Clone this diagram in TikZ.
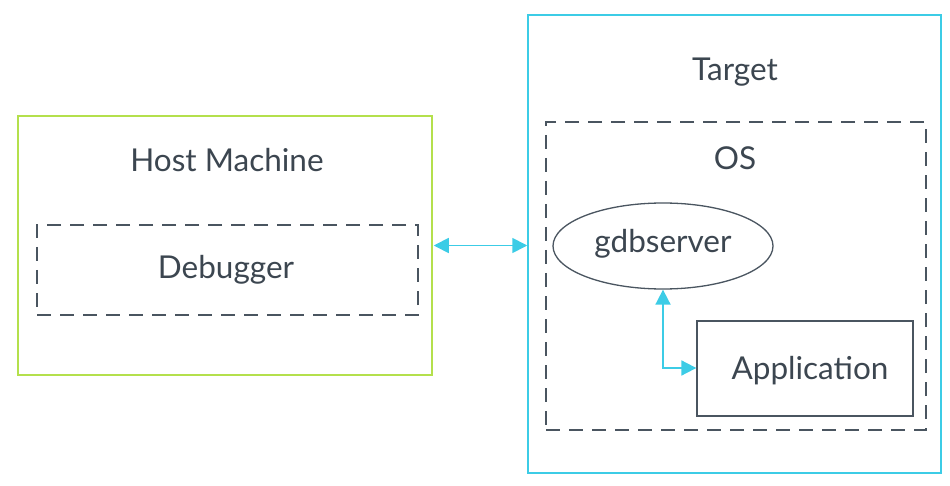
\documentclass[tikz,border=0pt]{standalone}
\usepackage{fontspec}
\setmainfont{Lato}
\usetikzlibrary{shapes.geometric,arrows.meta}
\definecolor{txt}{HTML}{3C4650}
\definecolor{hostgreen}{HTML}{B4E04C}
\definecolor{tcyan}{HTML}{3CCCE6}
\definecolor{gline}{HTML}{4A5560}
\tikzset{
  lbl/.style={text=txt, font=\fontsize{31.5}{34}\selectfont, inner sep=0pt},
  dbox/.style={draw=gline, line width=1.3pt, dash pattern=on 14pt off 9pt},
  conn/.style={draw=tcyan, line width=1.8pt, {Triangle[length=15pt,width=15pt]}-{Triangle[length=15pt,width=15pt]}},
}
\begin{document}
\begin{tikzpicture}[x=1pt,y=-1pt]
\useasboundingbox (0,0) rectangle (950,486);
% host
\node[draw=hostgreen, line width=1.5pt, minimum width=414pt, minimum height=259pt, inner sep=0pt] (host) at (225,245.5) {};
\node[lbl] (hostl) at (227,160) {Host Machine};
\node[dbox, minimum width=381pt, minimum height=90pt, inner sep=0pt] (dbg) at (227.5,270) {};
\node[lbl] (dbgl) at (226,270) {Debugger};
% target
\node[draw=tcyan, line width=1.5pt, minimum width=413pt, minimum height=458pt, inner sep=0pt] (target) at (734.5,244) {};
\node[lbl] (targetl) at (735,72) {Target};
\node[dbox, minimum width=380pt, minimum height=308pt, inner sep=0pt] (os) at (736,276) {};
\node[lbl] (osl) at (735,158) {OS};
\node[ellipse, draw=gline, line width=1.3pt, minimum width=220pt, minimum height=86pt, inner sep=0pt] (gdb) at (663,246) {};
\node[lbl] (gdbl) at (663,244) {gdbserver};
\node[draw=gline, line width=1.3pt, minimum width=216pt, minimum height=95pt, inner sep=0pt] (app) at (805,368.5) {};
\node[lbl] (appl) at (810,371) {Application};
% connectors
\draw[conn] (host.east) ++(1pt,0) coordinate (ha) -- (ha -| target.west);
\draw[conn] (gdb.south) |- (app.west |- 0,368);
\end{tikzpicture}
\end{document}
